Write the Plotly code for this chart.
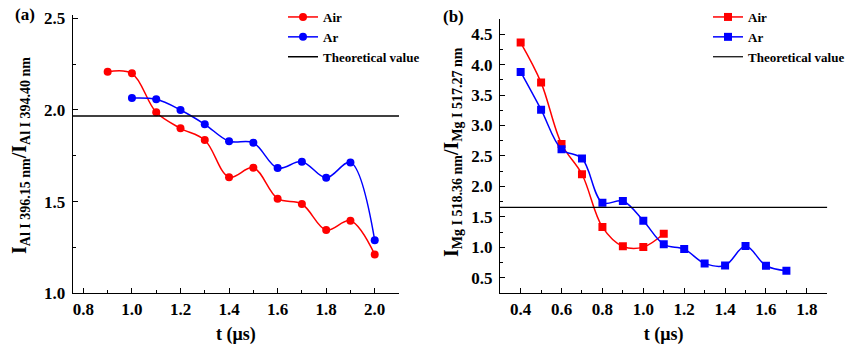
import plotly.graph_objects as go

# ---- data: panel (a) Al I line ratio ----
t_a_air = [0.9, 1.0, 1.1, 1.2, 1.3, 1.4, 1.5, 1.6, 1.7, 1.8, 1.9, 2.0]
r_a_air = [2.209, 2.200, 1.987, 1.900, 1.836, 1.633, 1.685, 1.516, 1.487, 1.345, 1.396, 1.212]
t_a_ar = [1.0, 1.1, 1.2, 1.3, 1.4, 1.5, 1.6, 1.7, 1.8, 1.9, 2.0]
r_a_ar = [2.065, 2.058, 2.000, 1.922, 1.829, 1.821, 1.683, 1.718, 1.630, 1.714, 1.289]
theo_a = 1.967

# ---- data: panel (b) Mg I line ratio ----
t_b_air = [0.4, 0.5, 0.6, 0.7, 0.8, 0.9, 1.0, 1.1]
r_b_air = [4.362, 3.705, 2.697, 2.200, 1.332, 1.015, 1.003, 1.222]
t_b_ar = [0.4, 0.5, 0.6, 0.7, 0.8, 0.9, 1.0, 1.1, 1.2, 1.3, 1.4, 1.5, 1.6, 1.7]
r_b_ar = [3.880, 3.261, 2.609, 2.460, 1.732, 1.760, 1.436, 1.048, 0.970, 0.735, 0.702, 1.020, 0.696, 0.614]
theo_b = 1.656

X_RANGE_A = [0.756, 2.10]
Y_RANGE_A = [1.0, 2.518]
X_RANGE_B = [0.299, 1.90]
Y_RANGE_B = [0.244, 4.75]

W, H = 849, 345
FONT = "Liberation Serif"
RED = "#FF0000"
BLUE = "#0000FF"

fig = go.Figure()


def series(x, y, color, name, symbol, xa, ya, legend):
    return go.Scatter(
        x=x, y=y, name=name, mode="lines+markers",
        line=dict(color=color, width=1.5, shape="spline", smoothing=1.0),
        marker=dict(color=color, size=8, symbol=symbol),
        xaxis=xa, yaxis=ya, legend=legend,
    )


# panel (a)
fig.add_trace(series(t_a_air, r_a_air, RED, "Air", "circle", "x", "y", "legend"))
fig.add_trace(series(t_a_ar, r_a_ar, BLUE, "Ar", "circle", "x", "y", "legend"))
fig.add_trace(go.Scatter(
    x=X_RANGE_A, y=[theo_a, theo_a], name="Theoretical value", mode="lines",
    line=dict(color="black", width=1.5), xaxis="x", yaxis="y", legend="legend",
))

# panel (b)
fig.add_trace(series(t_b_air, r_b_air, RED, "Air", "square", "x2", "y2", "legend2"))
fig.add_trace(series(t_b_ar, r_b_ar, BLUE, "Ar", "square", "x2", "y2", "legend2"))
fig.add_trace(go.Scatter(
    x=X_RANGE_B, y=[theo_b, theo_b], name="Theoretical value", mode="lines",
    line=dict(color="black", width=1.2), xaxis="x2", yaxis="y2", legend="legend2",
))

tickfont = dict(family=FONT, size=17, color="black", weight="bold")


def xaxis(domain, rng, anchor):
    return dict(
        domain=domain, range=rng, anchor=anchor, dtick=0.2, tick0=0,
        tickformat=".1f", showgrid=False, zeroline=False, showline=True,
        linecolor="black", linewidth=1.2, ticks="inside", ticklen=5,
        tickcolor="black", tickwidth=1.2, tickfont=tickfont,
        ticklabelstandoff=0, automargin=False,
        minor=dict(dtick=0.1, tick0=0, ticks="inside", ticklen=3,
                   tickcolor="black", tickwidth=1, showgrid=False),
        title=dict(text="<b>t (μs)</b>", font=dict(family=FONT, size=18, color="black"),
                   standoff=12),
    )


def yaxis(domain, rng, anchor, dtick, minor):
    return dict(
        domain=domain, range=rng, anchor=anchor, dtick=dtick, tick0=0,
        tickformat=".1f", showgrid=False, zeroline=False, showline=True,
        linecolor="black", linewidth=1.2, ticks="inside", ticklen=5,
        tickcolor="black", tickwidth=1.2, tickfont=tickfont,
        ticklabelstandoff=3, automargin=False,
        minor=dict(dtick=minor, tick0=0, ticks="inside", ticklen=3,
                   tickcolor="black", tickwidth=1, showgrid=False),
    )


legend_font = dict(family=FONT, size=13, color="black", weight="bold")

fig.update_layout(
    width=W, height=H,
    margin=dict(l=0, r=0, t=0, b=0, autoexpand=False),
    paper_bgcolor="white", plot_bgcolor="white",
    font=dict(family=FONT, color="black"),
    xaxis=xaxis([72.7 / W, 399 / W], X_RANGE_A, "y"),
    yaxis=yaxis([1 - 293.3 / H, 1 - 15 / H], Y_RANGE_A, "x", 0.5, 0.25),
    xaxis2=xaxis([500 / W, 827.3 / W], X_RANGE_B, "y2"),
    yaxis2=yaxis([1 - 293.3 / H, 1 - 19 / H], Y_RANGE_B, "x2", 0.5, 0.25),
    legend=dict(x=283 / W, y=1 - 2 / H, xanchor="left", yanchor="top",
                bgcolor="rgba(0,0,0,0)", tracegroupgap=0, font=legend_font),
    legend2=dict(x=708 / W, y=1 - 2 / H, xanchor="left", yanchor="top",
                 bgcolor="rgba(0,0,0,0)", tracegroupgap=0, font=legend_font),
    showlegend=True,
)

title_font = dict(family=FONT, size=20, color="black")
fig.add_annotation(
    text="<b>I<sub>Al I 396.15 nm</sub>/I<sub>Al I 394.40 nm</sub></b>",
    xref="paper", yref="paper", x=20 / W, y=1 - 156 / H,
    xanchor="center", yanchor="middle", textangle=-90, showarrow=False,
    font=title_font,
)
fig.add_annotation(
    text="<b>I<sub>Mg I 518.36 nm</sub>/I<sub>Mg I 517.27 nm</sub></b>",
    xref="paper", yref="paper", x=452 / W, y=1 - 152 / H,
    xanchor="center", yanchor="middle", textangle=-90, showarrow=False,
    font=title_font,
)
fig.add_annotation(
    text="<b>(a)</b>", xref="paper", yref="paper", x=25 / W, y=1 - 15 / H,
    xanchor="center", yanchor="middle", showarrow=False,
    font=dict(family=FONT, size=17, color="black"),
)
fig.add_annotation(
    text="<b>(b)</b>", xref="paper", yref="paper", x=453 / W, y=1 - 17 / H,
    xanchor="center", yanchor="middle", showarrow=False,
    font=dict(family=FONT, size=17, color="black"),
)

fig.write_html("out.html")
